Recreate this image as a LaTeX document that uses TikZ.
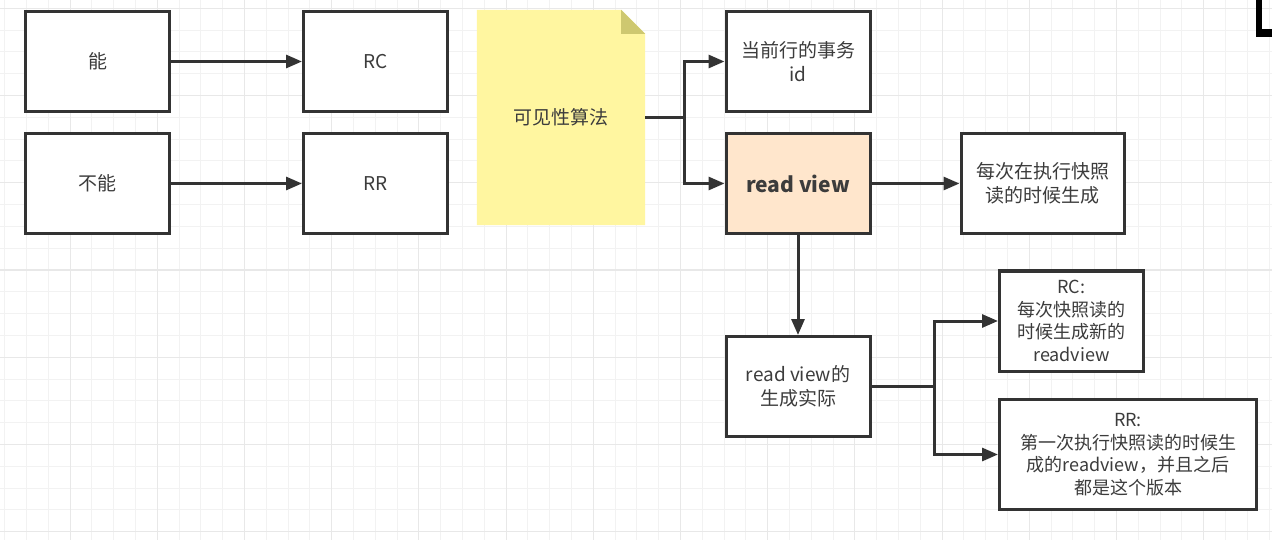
\documentclass[tikz,border=0pt]{standalone}
\usepackage{fontspec}
\setmainfont{Noto Sans CJK SC}
\usetikzlibrary{positioning, calc, arrows.meta, backgrounds}
\definecolor{lineColor}{RGB}{51,51,51}
\definecolor{textColor}{RGB}{60,60,60}
\definecolor{viewColor}{RGB}{255,230,204}
\definecolor{noteColor}{RGB}{255,246,160}
\definecolor{foldColor}{RGB}{206,200,112}
\definecolor{gridMinor}{RGB}{242,242,242}
\definecolor{gridMajor}{RGB}{232,232,232}
\tikzstyle{block} = [rectangle, minimum width=144pt, minimum height=100pt, text centered, align=center, draw=lineColor, line width=3pt, fill=white, text=textColor, font=\fontsize{19}{23.5}\selectfont]
\tikzstyle{notebox} = [rectangle, minimum width=168pt, minimum height=215pt, text centered, text=textColor, font=\fontsize{19}{23.5}\selectfont]
\tikzstyle{conn} = [lineColor, line width=3pt, -{Triangle[length=16pt,width=13pt]}]

\begin{document}
\begin{tikzpicture}[x=1pt, y=-1pt]
	\useasboundingbox (0,0) rectangle (1272,540);
	% grid
	\begin{scope}[on background layer]
		\fill[white] (0,0) rectangle (1272,540);
		\foreach \i in {0,...,58} \draw[gridMinor, line width=1pt] ({4.6+21.8*\i},0) -- ++(0,540);
		\foreach \j in {0,...,24} \draw[gridMinor, line width=1pt] (0,{8.4+21.8*\j}) -- ++(1272,0);
		\foreach \i in {0,...,15} \draw[gridMajor, line width=1pt] ({-17.2+87.2*\i},0) -- ++(0,540);
		\foreach \j in {0,...,6} \draw[gridMajor, line width=1pt] (0,{8.4+87.2*\j}) -- ++(1272,0);
	\end{scope}
	
	\node (neng) [block] at (97.5,61.5) {能};
	\node (rc) [block, right=131pt of neng] {RC};
	\node (buneng) [block, below=19pt of neng] {不能};
	\node (rr) [block, below=19pt of rc] {RR};
	
	\node (note) [notebox] at (561,117.5) {可见性算法};
	\begin{scope}[on background layer]
		\fill[noteColor] (note.south west) -- (note.north west) -- ($(note.north east)+(-24,0)$) -- ($(note.north east)+(0,24)$) -- (note.south east) -- cycle;
		\fill[foldColor] ($(note.north east)+(-24,0)$) -- ($(note.north east)+(-24,24)$) -- ($(note.north east)+(0,24)$) -- cycle;
	\end{scope}
	
	\node (txid) [block] at (798,61.5) {当前行的事务\\id};
	\node (rv) [block, below=19pt of txid, fill=viewColor, font=\fontsize{21}{25}\selectfont\bfseries] {read view};
	\node (gen) [block, right=88pt of rv, minimum width=163pt] {每次在执行快照\\读的时候生成};
	\node (rvgen) [block, below=100pt of rv] {read view的\\生成实际};
	\node (rcnew) [block, font=\fontsize{18}{22.5}\selectfont] at (1071.5,321) {RC:\\每次快照读的\\时候生成新的\\readview};
	\node (rrfirst) [block, minimum width=257pt, minimum height=110pt, font=\fontsize{18}{22.5}\selectfont] at (1128,454.5) {RR:\\第一次执行快照读的时候生\\成的readview，并且之后\\都是这个版本};
	
	\draw[conn] (neng) -- (rc);
	\draw[conn] (buneng) -- (rr);
	
	\coordinate (split1) at ($(note.east)+(39,0)$);
	\draw[conn] (note.east) -- (split1) |- (txid);
	\draw[conn] (split1) |- (rv);
	
	\draw[conn] (rv) -- (gen);
	\draw[conn] (rv) -- (rvgen);
	
	\coordinate (split2) at ($(rvgen.east)+(63,0)$);
	\draw[conn] (rvgen) -- (split2) |- (rcnew);
	\draw[conn] (split2) |- (rrfirst);
	
	% corner of a cut-off shape
	\fill[black] (1256,0) rectangle (1262,37);
	\fill[black] (1256,29) rectangle (1272,37);
\end{tikzpicture}
\end{document}
